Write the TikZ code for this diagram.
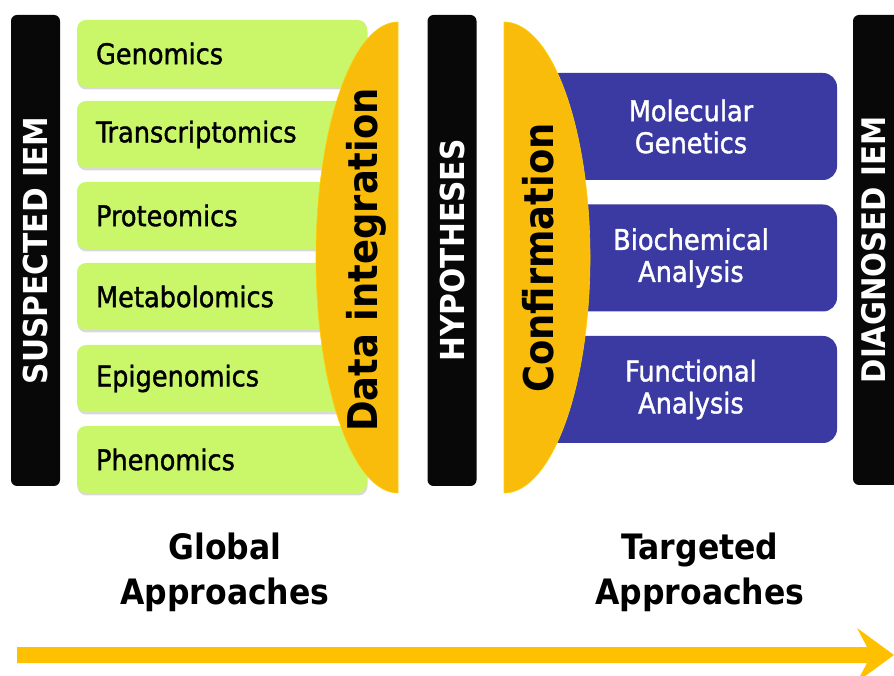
\documentclass[tikz,border=0pt]{standalone}
\usepackage{fontspec}
\setmainfont{DejaVu Sans Condensed}
\newfontfamily\semib{DejaVu Sans Condensed}[FakeBold=1.3]
\usetikzlibrary{shadows}
\definecolor{gbox}{RGB}{202,246,106}
\definecolor{orng}{RGB}{249,188,10}
\definecolor{blu}{RGB}{58,58,162}
\definecolor{blk}{RGB}{8,8,8}
\definecolor{arrowc}{RGB}{255,192,0}
\begin{document}
\begin{tikzpicture}[x=1pt,y=1pt,
  bar/.style={fill=blk, rounded corners=6pt, rotate=90, minimum width=471pt, minimum height=49pt,
    text=white, font=\bfseries\fontsize{33}{36}\selectfont, inner sep=0pt},
  omic/.style={fill=gbox, rounded corners=9pt, minimum height=67pt, text width=252pt, inner xsep=19pt,
    align=left, font=\semib\fontsize{28.5}{32}\selectfont,
    drop shadow={shadow xshift=0.5pt, shadow yshift=-2.5pt, opacity=0.3}},
  target/.style={fill=blu, rounded corners=14pt, minimum width=292pt, minimum height=107pt,
    text=white, align=center, font=\semib\fontsize{28.5}{32}\selectfont},
  oval/.style={fill=orng, draw=orng!70!yellow, line width=0.6pt},
  vlabel/.style={rotate=90, font=\bfseries\fontsize{41}{44}\selectfont},
  approach/.style={align=center, font=\bfseries\fontsize{35}{45}\selectfont}
]
\useasboundingbox (0,0) rectangle (894,675);

% green omics boxes
\node[omic] (gen) at (222,621.5) {Genomics};
\node[omic] (tra) at (222,540.5) {Transcriptomics};
\node[omic] (pro) at (222,459.5) {Proteomics};
\node[omic] (met) at (222,378.5) {Metabolomics};
\node[omic] (epi) at (222,296.5) {Epigenomics};
\node[omic] (phe) at (222,215.5) {Phenomics};

% blue targeted boxes
\node[target] (mol) at (691,548.5) {Molecular\\Genetics};
\node[target] (bio) at (691,417) {Biochemical\\Analysis};
\node[target] (fun) at (691,285.5) {Functional\\Analysis};

% orange half-ovals
\path[oval] (398,653) arc[start angle=90, end angle=270, x radius=82, y radius=235.5] -- cycle;
\path[oval] (504,653) arc[start angle=90, end angle=-90, x radius=86, y radius=235.5] -- cycle;
\node[vlabel] (di) at (366,415) {Data integration};
\node[vlabel] (conf) at (538,417) {Confirmation};

% black bars
\node[bar] (sus) at (35.5,424.5) {SUSPECTED IEM};
\node[bar] (hyp) at (452,424.5) {HYPOTHESES};
\path[fill=blk, rounded corners=6pt] (853,660) rectangle (910,190);
\node[rotate=90, text=white, font=\bfseries\fontsize{32.5}{36}\selectfont, inner sep=0pt] (dia) at (874,425) {DIAGNOSED IEM};

% approach labels
\node[approach] (glob) at (225,103) {Global\\Approaches};
\node[approach] (targ) at (700,103) {Targeted\\Approaches};

% bottom arrow
\fill[arrowc] (17,28) -- (867,28) -- (857,47) -- (894,20) -- (857,-7) -- (867,12) -- (17,12) -- cycle;
\end{tikzpicture}
\end{document}
